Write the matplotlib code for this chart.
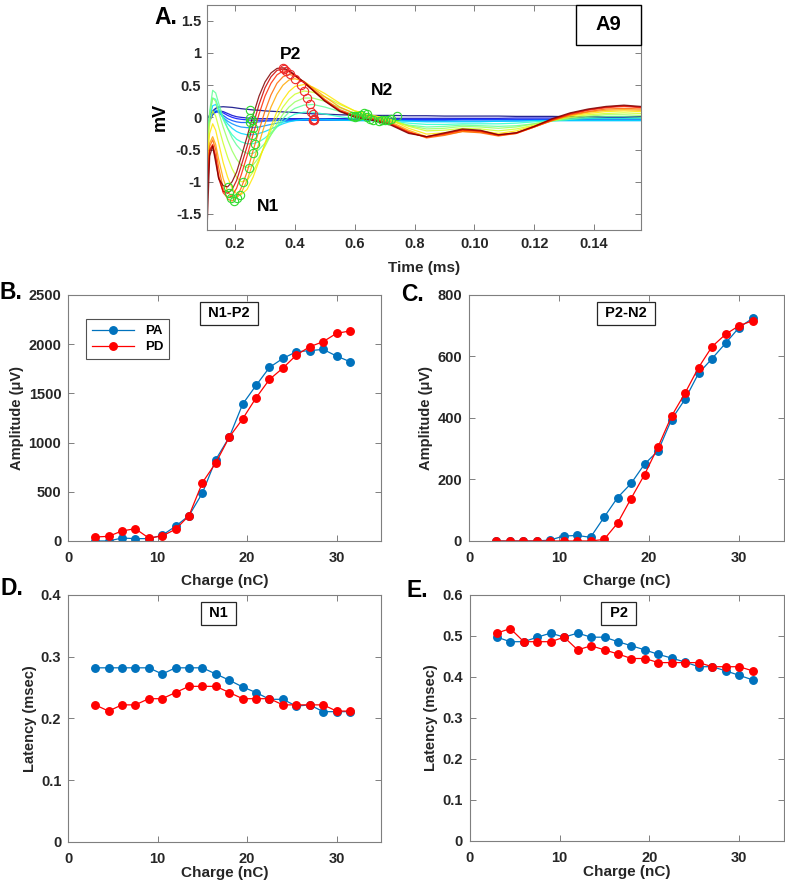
import numpy as np
import matplotlib
matplotlib.use('Agg')
from matplotlib import pyplot as plt
from matplotlib.patches import Rectangle

plt.rcParams['font.family'] = ['Liberation Sans', 'DejaVu Sans']
plt.rcParams['font.weight'] = 'bold'
plt.rcParams['axes.labelweight'] = 'bold'

# ---- panel A: evoked waveforms, one row per stimulus level (low -> high)
wave_t = [0.105, 0.115, 0.125, 0.135, 0.145, 0.16, 0.175, 0.19, 0.205, 0.22,
          0.24, 0.26, 0.28, 0.30, 0.32, 0.34, 0.36, 0.38, 0.40, 0.43,
          0.46, 0.50, 0.55, 0.60, 0.66, 0.72, 0.78, 0.84, 0.90, 0.96,
          1.02, 1.08, 1.14, 1.20, 1.26, 1.32, 1.38, 1.44, 1.50, 1.555]
wave_mv = [
    [-0.05, 0.04, 0.10, 0.14, 0.16, 0.165, 0.16, 0.155, 0.145, 0.135, 0.125, 0.115, 0.11, 0.10, 0.095, 0.09, 0.085, 0.08, 0.075, 0.065,
     0.055, 0.05, 0.04, 0.035, 0.03, 0.03, 0.025, 0.025, 0.02, 0.02, 0.02, 0.02, 0.015, 0.015, 0.015, 0.01, 0.01, 0.01, 0.01, 0.01],
    [-0.10, -0.02, 0.05, 0.09, 0.10, 0.09, 0.06, 0.03, 0.01, 0.0, -0.01, -0.015, -0.02, -0.02, -0.02, -0.02, -0.02, -0.02, -0.02, -0.02,
     -0.02, -0.02, -0.02, -0.02, -0.02, -0.015, -0.015, -0.015, -0.015, -0.015, -0.015, -0.015, -0.01, -0.01, -0.01, -0.01, -0.005, -0.005, 0.0, 0.0],
    [-0.15, -0.05, 0.04, 0.08, 0.09, 0.07, 0.03, 0.0, -0.02, -0.03, -0.04, -0.045, -0.045, -0.045, -0.04, -0.04, -0.04, -0.04, -0.04, -0.04,
     -0.04, -0.035, -0.035, -0.035, -0.035, -0.035, -0.035, -0.035, -0.035, -0.03, -0.03, -0.03, -0.03, -0.03, -0.03, -0.025, -0.02, -0.02, -0.02, -0.02],
    [-0.20, -0.05, 0.05, 0.09, 0.08, 0.03, -0.02, -0.05, -0.07, -0.08, -0.08, -0.08, -0.07, -0.06, -0.055, -0.05, -0.045, -0.04, -0.04, -0.04,
     -0.04, -0.04, -0.04, -0.04, -0.04, -0.04, -0.045, -0.045, -0.045, -0.04, -0.04, -0.04, -0.04, -0.04, -0.035, -0.03, -0.03, -0.03, -0.03, -0.03],
    [-0.30, -0.05, 0.08, 0.12, 0.08, 0.0, -0.06, -0.10, -0.13, -0.15, -0.16, -0.16, -0.15, -0.13, -0.11, -0.09, -0.07, -0.06, -0.05, -0.045,
     -0.045, -0.045, -0.045, -0.05, -0.05, -0.05, -0.055, -0.06, -0.06, -0.06, -0.06, -0.06, -0.055, -0.05, -0.05, -0.05, -0.05, -0.05, -0.05, -0.05],
    [-0.35, 0.0, 0.18, 0.20, 0.12, 0.0, -0.10, -0.17, -0.22, -0.25, -0.27, -0.27, -0.25, -0.22, -0.18, -0.14, -0.10, -0.07, -0.05, -0.03,
     -0.03, -0.03, -0.04, -0.05, -0.05, -0.05, -0.06, -0.07, -0.07, -0.07, -0.07, -0.06, -0.06, -0.05, -0.05, -0.05, -0.05, -0.05, -0.05, -0.05],
    [-0.40, 0.05, 0.30, 0.28, 0.15, -0.03, -0.17, -0.27, -0.34, -0.38, -0.41, -0.41, -0.38, -0.32, -0.24, -0.15, -0.07, 0.0, 0.05, 0.08,
     0.08, 0.05, 0.01, -0.02, -0.04, -0.06, -0.09, -0.11, -0.11, -0.10, -0.10, -0.10, -0.09, -0.07, -0.05, -0.03, -0.02, -0.02, -0.02, -0.02],
    [-0.45, 0.10, 0.42, 0.38, 0.22, 0.0, -0.17, -0.32, -0.43, -0.51, -0.56, -0.56, -0.50, -0.40, -0.27, -0.14, -0.02, 0.08, 0.14, 0.19,
     0.20, 0.16, 0.09, 0.03, -0.02, -0.06, -0.12, -0.15, -0.14, -0.12, -0.13, -0.14, -0.13, -0.10, -0.06, -0.03, 0.0, 0.01, 0.01, 0.0],
    [-0.55, 0.05, 0.30, 0.25, 0.08, -0.15, -0.35, -0.52, -0.65, -0.74, -0.78, -0.74, -0.62, -0.45, -0.27, -0.10, 0.05, 0.16, 0.24, 0.30,
     0.30, 0.25, 0.15, 0.06, 0.0, -0.05, -0.13, -0.18, -0.17, -0.14, -0.15, -0.17, -0.15, -0.10, -0.05, -0.01, 0.02, 0.04, 0.04, 0.03],
    [-0.65, -0.10, 0.10, 0.02, -0.15, -0.40, -0.62, -0.80, -0.93, -1.00, -0.98, -0.85, -0.65, -0.42, -0.20, 0.0, 0.16, 0.28, 0.36, 0.41,
     0.39, 0.32, 0.20, 0.10, 0.03, -0.03, -0.14, -0.21, -0.20, -0.17, -0.18, -0.21, -0.18, -0.12, -0.05, 0.0, 0.04, 0.06, 0.07, 0.06],
    [-0.75, -0.25, -0.10, -0.20, -0.40, -0.70, -0.93, -1.10, -1.19, -1.20, -1.12, -0.93, -0.68, -0.40, -0.14, 0.09, 0.27, 0.40, 0.48, 0.51,
     0.47, 0.37, 0.22, 0.10, 0.03, -0.04, -0.17, -0.26, -0.24, -0.20, -0.21, -0.25, -0.21, -0.13, -0.04, 0.02, 0.06, 0.09, 0.10, 0.09],
    [-0.85, -0.40, -0.30, -0.42, -0.65, -0.95, -1.15, -1.24, -1.25, -1.18, -0.98, -0.70, -0.40, -0.10, 0.16, 0.36, 0.50, 0.58, 0.60, 0.56,
     0.46, 0.32, 0.16, 0.06, 0.0, -0.07, -0.20, -0.30, -0.27, -0.22, -0.23, -0.28, -0.24, -0.15, -0.05, 0.03, 0.08, 0.11, 0.12, 0.11],
    [-1.00, -0.45, -0.35, -0.50, -0.78, -1.10, -1.27, -1.30, -1.24, -1.10, -0.85, -0.52, -0.20, 0.10, 0.35, 0.53, 0.63, 0.67, 0.64, 0.55,
     0.44, 0.28, 0.12, 0.03, -0.02, -0.09, -0.22, -0.32, -0.28, -0.22, -0.24, -0.29, -0.25, -0.15, -0.05, 0.04, 0.09, 0.13, 0.14, 0.13],
    [-1.20, -0.50, -0.42, -0.60, -0.90, -1.17, -1.25, -1.22, -1.10, -0.90, -0.60, -0.27, 0.05, 0.33, 0.53, 0.66, 0.72, 0.71, 0.65, 0.54,
     0.42, 0.26, 0.10, 0.02, -0.03, -0.10, -0.23, -0.31, -0.26, -0.20, -0.22, -0.28, -0.25, -0.15, -0.04, 0.05, 0.11, 0.15, 0.17, 0.15],
    [-1.40, -0.52, -0.44, -0.65, -0.95, -1.15, -1.18, -1.12, -0.98, -0.76, -0.45, -0.12, 0.20, 0.46, 0.63, 0.73, 0.75, 0.72, 0.65, 0.54,
     0.42, 0.26, 0.10, 0.01, -0.04, -0.11, -0.24, -0.30, -0.25, -0.19, -0.21, -0.27, -0.24, -0.14, -0.03, 0.06, 0.12, 0.16, 0.18, 0.16],
    [-1.90, -0.60, -0.45, -0.70, -0.95, -1.06, -1.08, -1.00, -0.85, -0.62, -0.30, 0.03, 0.33, 0.55, 0.69, 0.76, 0.77, 0.73, 0.66, 0.55,
     0.42, 0.25, 0.09, 0.0, -0.05, -0.12, -0.25, -0.30, -0.24, -0.18, -0.20, -0.27, -0.24, -0.14, -0.02, 0.07, 0.13, 0.17, 0.19, 0.17],
]
# detected peaks on each trace
n1_t = [0.25, 0.25, 0.255, 0.25, 0.26, 0.255, 0.265, 0.26, 0.245, 0.225, 0.215, 0.205, 0.195, 0.185, 0.18, 0.175]
n1_v = [0.11, -0.015, -0.045, -0.075, -0.16, -0.27, -0.41, -0.56, -0.78, -1.0, -1.2, -1.25, -1.3, -1.25, -1.18, -1.08]
p2_t = [0.46, 0.465, 0.46, 0.465, 0.46, 0.465, 0.455, 0.45, 0.44, 0.43, 0.42, 0.40, 0.385, 0.37, 0.365, 0.36]
p2_v = [0.055, -0.02, -0.04, -0.04, -0.045, -0.03, 0.08, 0.20, 0.30, 0.41, 0.51, 0.60, 0.67, 0.72, 0.75, 0.77]
n2_t = [0.74, 0.72, 0.71, 0.70, 0.69, 0.68, 0.66, 0.65, 0.64, 0.64, 0.63, 0.62, 0.61, 0.60, 0.60, 0.59]
n2_v = [0.025, -0.02, -0.035, -0.04, -0.045, -0.05, -0.045, -0.03, 0.0, 0.05, 0.065, 0.04, 0.02, 0.02, 0.01, 0.02]

a_xticks = [0.2, 0.4, 0.6, 0.8, 1.0, 1.2, 1.4]
a_xticklabels = ['0.2', '0.4', '0.6', '0.8', '0.10', '0.12', '0.14']
a_yticks = [-1.5, -1, -0.5, 0, 0.5, 1, 1.5]
a_yticklabels = ['-1.5', '-1', '-0.5', '0', '0.5', '1', '1.5']

# ---- panels B-E: PA vs PD against charge
charge = [3, 4.5, 6, 7.5, 9, 10.5, 12, 13.5, 15, 16.5, 18, 19.5, 21, 22.5, 24, 25.5, 27, 28.5, 30, 31.5]

n1p2_pa = [0, 0, 30, 24, 24, 58, 150, 258, 488, 828, 1055, 1391, 1581, 1764, 1855, 1923, 1934, 1947, 1879, 1822]
n1p2_pd = [41, 47, 102, 125, 30, 51, 119, 258, 594, 794, 1055, 1241, 1455, 1642, 1757, 1889, 1974, 2025, 2110, 2134]

p2n2_pa = [0, 0, 0, 0, 3, 16, 18, 12, 77, 141, 187, 250, 293, 395, 461, 545, 593, 643, 694, 724]
p2n2_pd = [0, 0, 0, 0, 0, 0, 0, 0, 5, 58, 138, 216, 306, 406, 481, 564, 632, 672, 700, 716]

n1_lat_pa = [0.282, 0.282, 0.282, 0.282, 0.282, 0.272, 0.282, 0.282, 0.282, 0.272,
             0.262, 0.251, 0.242, 0.231, 0.231, 0.220, 0.222, 0.211, 0.211, 0.211]
n1_lat_pd = [0.222, 0.212, 0.222, 0.222, 0.232, 0.232, 0.242, 0.252, 0.252, 0.252,
             0.242, 0.232, 0.232, 0.232, 0.222, 0.222, 0.222, 0.222, 0.212, 0.212]

p2_lat_pa = [0.497, 0.486, 0.486, 0.497, 0.507, 0.497, 0.507, 0.497, 0.497, 0.486,
             0.476, 0.466, 0.455, 0.446, 0.436, 0.425, 0.425, 0.415, 0.404, 0.393]
p2_lat_pd = [0.507, 0.518, 0.486, 0.486, 0.486, 0.497, 0.466, 0.476, 0.466, 0.456,
             0.445, 0.445, 0.435, 0.435, 0.435, 0.435, 0.425, 0.425, 0.425, 0.415]

PA_COL = '#0072BD'
PD_COL = '#FF0000'
SPINE = '#7f7f7f'
TXT = '#262626'


def style(ax, size=10.5):
    for s in ax.spines.values():
        s.set_color(SPINE)
        s.set_linewidth(0.8)
    ax.tick_params(direction='in', top=True, right=True, color=SPINE, labelcolor=TXT,
                   labelsize=size, length=4, width=0.7, pad=5)


def line_panel(rect, pa, pd, ylim, yticks, yticklabels, ylabel, title, title_x, letter, letter_xy, xlpad):
    ax = fig.add_axes(rect)
    ax.plot(charge, pa, '-o', color=PA_COL, lw=0.9, ms=5.4, label='PA')
    ax.plot(charge, pd, '-o', color=PD_COL, lw=0.9, ms=5.4, label='PD')
    ax.set_xlim(0, 35)
    ax.set_ylim(*ylim)
    ax.set_xticks([0, 10, 20, 30])
    ax.set_yticks(yticks)
    ax.set_yticklabels(yticklabels)
    style(ax)
    ax.tick_params(axis='x', pad=7.5)
    ax.set_xlabel('Charge (nC)', fontsize=11, color=TXT, labelpad=xlpad)
    ax.set_ylabel(ylabel, fontsize=10.5, color=TXT, labelpad=3)
    ax.text(title_x, 0.925, ' ' + title + ' ', transform=ax.transAxes, ha='center', va='center',
            fontsize=10.5, color='black',
            bbox=dict(boxstyle='square,pad=0.3', fc='white', ec=TXT, lw=0.9))
    fig.text(letter_xy[0], letter_xy[1], letter, fontsize=16.5, ha='center', va='center')
    return ax


fig = plt.figure(figsize=(7.85, 8.86), dpi=100)

# panel A
axA = fig.add_axes([0.2633, 0.7404, 0.5533, 0.2543])
cmap = plt.get_cmap('jet')
for k, v in enumerate(wave_mv):
    axA.plot(wave_t, v, color=cmap(k / (len(wave_mv) - 1)), lw=0.9, alpha=0.85)
axA.plot(n1_t, n1_v, 'o', mfc='none', mec='#2fdc2f', ms=6, mew=0.8)
axA.plot(p2_t, p2_v, 'o', mfc='none', mec='#ee2a2a', ms=6, mew=0.8)
axA.plot(n2_t, n2_v, 'o', mfc='none', mec='#2fdc2f', ms=6, mew=0.8)
axA.set_xlim(0.105, 1.557)
axA.set_ylim(-1.75, 1.75)
axA.set_xticks(a_xticks)
axA.set_xticklabels(a_xticklabels)
axA.set_yticks(a_yticks)
axA.set_yticklabels(a_yticklabels)
style(axA)
axA.tick_params(axis='x', pad=5)
axA.tick_params(axis='y', pad=4)
axA.set_xlabel('Time (ms)', fontsize=11, color=TXT, labelpad=7)
axA.set_ylabel('mV', fontsize=13, color='black', labelpad=5)
axA.text(0.385, 0.98, 'P2', fontsize=12.5, ha='center', va='center')
axA.text(0.31, -1.38, 'N1', fontsize=12.5, ha='center', va='center')
axA.text(0.69, 0.41, 'N2', fontsize=12.5, ha='center', va='center')
axA.add_patch(Rectangle((0.85, 0.82), 0.15, 0.18, transform=axA.transAxes,
                        fc='white', ec='black', lw=1.0, clip_on=False, zorder=5))
axA.text(0.925, 0.91, 'A9', transform=axA.transAxes, fontsize=14.5, ha='center', va='center', zorder=6)
fig.text(0.2115, 0.9797, 'A.', fontsize=16.5, ha='center', va='center')

axB = line_panel([0.0870, 0.3894, 0.3987, 0.2777], n1p2_pa, n1p2_pd, (0, 2500),
                 [0, 500, 1000, 1500, 2000, 2500], ['0', '500', '1000', '1500', '2000', '2500'],
                 'Amplitude (μV)', 'N1-P2', 0.514, 'B.', (0.014, 0.670), 6)
leg = axB.legend(loc='upper left', bbox_to_anchor=(0.0565, 0.902), borderaxespad=0,
                 fontsize=9.5, fancybox=False, handlelength=3.2, borderpad=0.45, labelspacing=0.3)
leg.get_frame().set_edgecolor(TXT)
leg.get_frame().set_linewidth(0.8)

line_panel([0.5975, 0.3894, 0.4013, 0.2777], p2n2_pa, p2n2_pd, (0, 800),
           [0, 200, 400, 600, 800], ['0', '200', '400', '600', '800'],
           'Amplitude (μV)', 'P2-N2', 0.498, 'C.', (0.526, 0.668), 6)

line_panel([0.0870, 0.0497, 0.3987, 0.2788], n1_lat_pa, n1_lat_pd, (0, 0.4),
           [0, 0.1, 0.2, 0.3, 0.4], ['0', '0.1', '0.2', '0.3', '0.4'],
           'Latency (msec)', 'N1', 0.48, 'D.', (0.015, 0.336), 0)

line_panel([0.5987, 0.0508, 0.4000, 0.2777], p2_lat_pa, p2_lat_pd, (0, 0.6),
           [0, 0.1, 0.2, 0.3, 0.4, 0.5, 0.6], ['0', '0.1', '0.2', '0.3', '0.4', '0.5', '0.6'],
           'Latency (msec)', 'P2', 0.474, 'E.', (0.531, 0.333), 0)

fig.savefig('out.png', dpi=100)
